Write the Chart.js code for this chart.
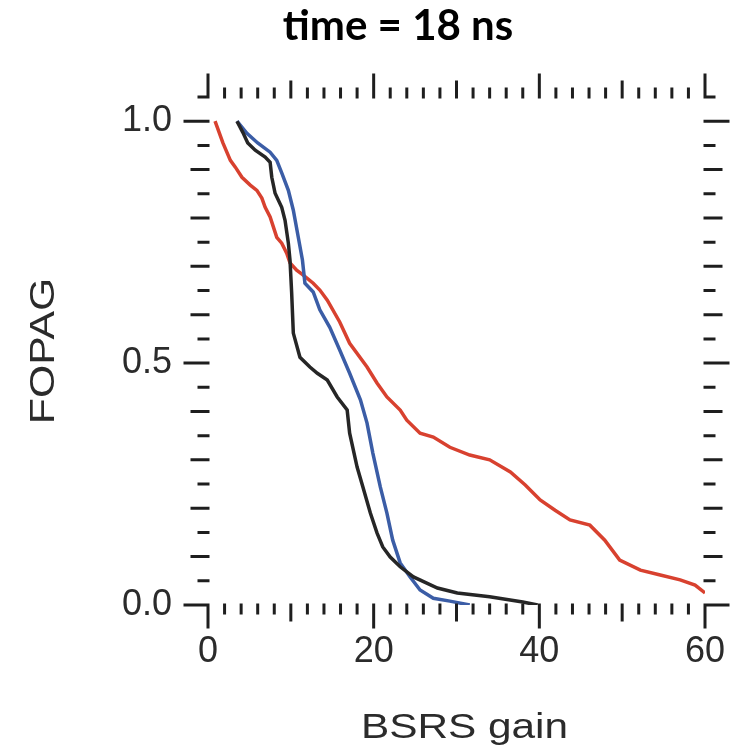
<!DOCTYPE html>
<html>
<head>
<meta charset="utf-8">
<script src="https://cdn.jsdelivr.net/npm/chart.js@4/dist/chart.umd.min.js"></script>
<style>
  html, body { margin: 0; padding: 0; background: #fff; }
  canvas { display: block; }
</style>
</head>
<body>
<canvas id="fopagChart" width="737" height="756"></canvas>
<script>
// 값은 그림에서 읽은 것 (x: BSRS gain, y: FOPAG)
const redX   = [0.85, 1.8, 2.7, 3.3, 4.1, 5.1, 5.9, 6.5, 6.9, 7.5, 7.9, 8.3, 8.9, 9.5, 9.9, 10.7, 11.5, 12.7, 13.5, 14.4, 15.9, 17.1, 19.2, 20.4, 21.6, 23.2, 24.0, 25.6, 27.2, 29.2, 31.6, 34.0, 36.5, 38.3, 40.1, 41.9, 43.7, 46.1, 47.9, 49.7, 52.2, 54.6, 57.0, 58.8, 60.0];
const redY   = [1.0, 0.955, 0.919, 0.905, 0.884, 0.868, 0.857, 0.841, 0.822, 0.802, 0.781, 0.760, 0.748, 0.727, 0.707, 0.692, 0.682, 0.665, 0.651, 0.630, 0.585, 0.541, 0.492, 0.459, 0.430, 0.403, 0.382, 0.355, 0.347, 0.326, 0.310, 0.300, 0.275, 0.248, 0.217, 0.196, 0.176, 0.165, 0.134, 0.093, 0.072, 0.062, 0.052, 0.041, 0.025];

const blackX = [3.5, 4.2, 4.8, 5.7, 6.9, 7.5, 7.7, 8.1, 8.9, 9.3, 9.7, 9.9, 10.1, 10.3, 11.1, 12.3, 13.2, 14.4, 15.6, 16.8, 17.1, 18.0, 18.7, 19.6, 20.4, 21.1, 22.0, 23.2, 24.8, 27.7, 30.1, 34.0, 38.0, 39.8];
const blackY = [1.0, 0.977, 0.955, 0.940, 0.926, 0.915, 0.884, 0.851, 0.822, 0.795, 0.748, 0.713, 0.645, 0.562, 0.512, 0.492, 0.479, 0.465, 0.430, 0.403, 0.355, 0.285, 0.244, 0.190, 0.149, 0.120, 0.099, 0.079, 0.058, 0.035, 0.025, 0.017, 0.006, 0.0];

const blueX  = [3.5, 4.7, 6.0, 7.5, 8.3, 8.9, 9.7, 10.3, 10.9, 11.4, 11.7, 12.7, 13.5, 14.7, 15.9, 17.1, 18.4, 19.2, 19.9, 20.8, 21.6, 22.3, 23.2, 24.4, 25.6, 27.2, 29.2, 31.6];
const blueY  = [1.0, 0.975, 0.955, 0.936, 0.919, 0.893, 0.857, 0.816, 0.760, 0.713, 0.665, 0.647, 0.610, 0.574, 0.527, 0.479, 0.424, 0.376, 0.314, 0.244, 0.190, 0.134, 0.087, 0.058, 0.031, 0.014, 0.008, 0.0];

const xTickLabels = [0, 20, 40, 60];
const yTickLabels = [0.0, 0.5, 1.0];

const xTitle = 'BSRS gain';
const yTitle = 'FOPAG';

const toPoints = (xs, ys) => xs.map((v, i) => ({ x: v, y: ys[i] }));

/**
 * 눈금 표시 (축선 없이 바깥쪽으로 긴/중간/짧은 눈금)
 */
const tickMarks = {
	id: 'tickMarks',
	afterDraw(chart) {
		const { ctx, chartArea: a, scales: { x, y } } = chart;
		ctx.save();
		ctx.strokeStyle = '#1e1e1e';
		ctx.lineWidth = 3;
		ctx.lineCap = 'square';
		ctx.beginPath();
		for (let v = 0; v <= 60; v += 2) {
			const px = x.getPixelForValue(v);
			const len = v % 20 === 0 ? 22 : (v % 10 === 0 ? 15 : 8);
			ctx.moveTo(px, a.bottom); ctx.lineTo(px, a.bottom + len);
			ctx.moveTo(px, a.top); ctx.lineTo(px, a.top - len);
		}
		for (let i = 0; i <= 21; i++) {
			const py = y.getPixelForValue(i * 0.05);
			const len = i % 10 === 0 ? 23 : (i % 2 === 0 ? 16 : 9);
			ctx.moveTo(a.left, py); ctx.lineTo(a.left - len, py);
			ctx.moveTo(a.right, py); ctx.lineTo(a.right + len, py);
		}
		ctx.stroke();
		ctx.restore();
	}
};

/**
 * 축 제목 (원본처럼 가로로 늘린 글꼴)
 */
const axisTitles = {
	id: 'axisTitles',
	afterDraw(chart) {
		const { ctx, chartArea: a } = chart;
		ctx.save();
		ctx.font = '35px "Liberation Sans"';
		ctx.fillStyle = '#2b2b2b';
		ctx.textAlign = 'center';
		ctx.textBaseline = 'alphabetic';

		ctx.save();
		ctx.translate((a.left + a.right) / 2 + 8, 738);
		ctx.scale(1.21, 1);
		ctx.fillText(xTitle, 0, 0);
		ctx.restore();

		ctx.save();
		ctx.translate(54, (a.top + a.bottom) / 2);
		ctx.rotate(-Math.PI / 2);
		ctx.scale(1.22, 1);
		ctx.fillText(yTitle, 0, 0);
		ctx.restore();

		ctx.restore();
	}
};

const lineSet = (label, color, xs, ys) => ({
	label: label,
	data: toPoints(xs, ys),
	borderColor: color,
	borderWidth: 3.5,
	pointRadius: 0,
	tension: 0,
	fill: false
});

new Chart(document.getElementById('fopagChart'), {
	type: 'line',
	data: {
		datasets: [
			lineSet('black', '#262626', blackX, blackY),
			lineSet('blue', '#3b5da6', blueX, blueY),
			lineSet('red', '#d8412f', redX, redY)
		]
	},
	options: {
		responsive: false,
		animation: false,
		layout: { padding: { left: 91, right: 32, top: 0, bottom: 0 } },
		plugins: {
			legend: { display: false },
			tooltip: { enabled: false },
			title: {
				display: true,
				text: 'time = 18 ns',
				color: '#000',
				font: { family: 'Lato', size: 42, weight: 'bold' },
				padding: { top: 1, bottom: 45.6 }
			}
		},
		scales: {
			x: {
				type: 'linear',
				min: 0,
				max: 60,
				afterFit: (s) => { s.height = 151; },
				afterBuildTicks: (s) => { s.ticks = xTickLabels.map(v => ({ value: v })); },
				border: { display: false },
				grid: { display: true, drawOnChartArea: false, drawTicks: true, tickLength: 22, tickColor: 'rgba(0,0,0,0)' },
				ticks: {
					color: '#2b2b2b',
					padding: 3,
					maxRotation: 0,
					font: { family: 'Liberation Sans', size: 36 },
					callback: (v) => String(v)
				}
			},
			y: {
				type: 'linear',
				min: 0,
				max: 1.05,
				afterFit: (s) => { s.width = 117; },
				afterBuildTicks: (s) => { s.ticks = yTickLabels.map(v => ({ value: v })); },
				border: { display: false },
				grid: { display: true, drawOnChartArea: false, drawTicks: true, tickLength: 24, tickColor: 'rgba(0,0,0,0)' },
				ticks: {
					color: '#2b2b2b',
					padding: 12,
					font: { family: 'Liberation Sans', size: 36 },
					callback: (v) => Number(v).toFixed(1)
				}
			}
		}
	},
	plugins: [tickMarks, axisTitles]
});
</script>
</body>
</html>
